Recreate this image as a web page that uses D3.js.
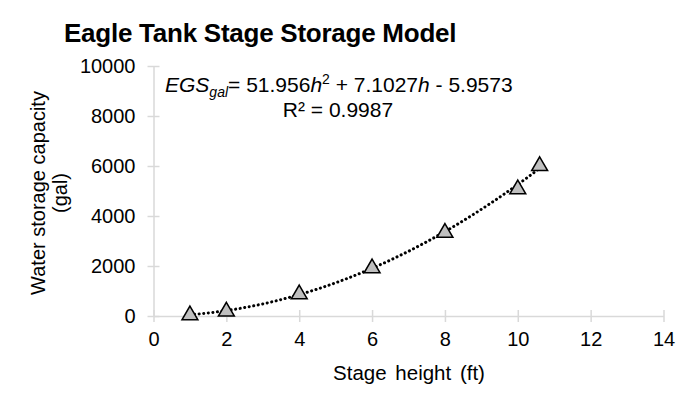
<!DOCTYPE html>
<html><head><meta charset="utf-8">
<script src="https://cdn.jsdelivr.net/npm/d3@7"></script>
<style>
body{margin:0;background:#fff;}
text{font-family:"Liberation Sans",Arial,sans-serif;fill:#000;}
</style></head>
<body>
<svg id="c" width="694" height="403"></svg>
<script>
const stageHeight = [1, 2, 4, 6, 8, 10, 10.6];
const storageGal = [30, 180, 870, 1910, 3330, 5070, 6000];
const xTicks = [0, 2, 4, 6, 8, 10, 12, 14];
const yTicks = [0, 2000, 4000, 6000, 8000, 10000];
const trendCoef = [51.956, 7.1027, -5.9573]; // a h^2 + b h + c
const trendRange = [1, 10.6];

const svg = d3.select("#c");
const x = d3.scaleLinear().domain([0, 14]).range([153.5, 663.5]);
const y = d3.scaleLinear().domain([0, 10000]).range([316, 66]);
const axisColor = "#d9d9d9";

// axes
const xa = svg.append("g").attr("transform", "translate(0,316)")
  .call(d3.axisBottom(x).tickValues(xTicks).tickFormat(d3.format("d")).tickSizeInner(6).tickSizeOuter(0).tickPadding(10));
xa.select(".domain").attr("stroke", axisColor).attr("stroke-width", 1.5);
xa.selectAll(".tick line").attr("stroke", axisColor).attr("stroke-width", 1.5).attr("y1", -6);
xa.selectAll(".tick text").style("font-size", "20px").attr("fill", "#000");

const ya = svg.append("g").attr("transform", "translate(153.5,0)")
  .call(d3.axisLeft(y).tickValues(yTicks).tickFormat(d3.format("d")).tickSizeInner(6).tickSizeOuter(0).tickPadding(12));
ya.select(".domain").attr("stroke", axisColor).attr("stroke-width", 1.5);
ya.selectAll(".tick line").attr("stroke", axisColor).attr("stroke-width", 1.5).attr("x2", -6).attr("x1", 6);
ya.selectAll(".tick text").style("font-size", "20px").attr("fill", "#000");

// trendline
const hs = d3.range(trendRange[0], trendRange[1] + 0.0001, 0.05);
const fit = h => trendCoef[0]*h*h + trendCoef[1]*h + trendCoef[2];
svg.append("path")
  .datum(hs)
  .attr("d", d3.line().x(h => x(h)).y(h => y(fit(h))))
  .attr("fill", "none").attr("stroke", "#000").attr("stroke-width", 3)
  .attr("stroke-dasharray", "0.1,4.5").attr("stroke-linecap", "round");

// markers
const tri = d3.symbol().type(d3.symbolTriangle).size(110);
svg.append("g").selectAll("path").data(stageHeight).join("path")
  .attr("d", tri)
  .attr("transform", (d, i) => `translate(${x(d)},${y(storageGal[i])})`)
  .attr("fill", "#bfbfbf").attr("stroke", "#000").attr("stroke-width", 1.5);

// title
svg.append("text").attr("x", 64).attr("y", 42)
  .style("font-size", "26px").style("font-weight", "bold").style("letter-spacing", "-0.25px")
  .text("Eagle Tank Stage Storage Model");

// equation
const eq = svg.append("text").attr("x", 165).attr("y", 92).style("font-size", "21px");
eq.append("tspan").style("font-style", "italic").text("EGS");
eq.append("tspan").style("font-style", "italic").style("font-size", "14px").attr("dy", 5).text("gal");
eq.append("tspan").attr("dy", -5).text("= 51.956");
eq.append("tspan").style("font-style", "italic").text("h");
eq.append("tspan").style("font-size", "14px").attr("dy", -8).text("2");
eq.append("tspan").attr("dy", 8).text(" + 7.1027");
eq.append("tspan").style("font-style", "italic").text("h");
eq.append("tspan").text(" - 5.9573");
svg.append("text").attr("x", 338).attr("y", 117).attr("text-anchor", "middle")
  .style("font-size", "21px").text("R² = 0.9987");

// axis titles
svg.append("text").attr("x", 409).attr("y", 380).attr("text-anchor", "middle")
  .style("font-size", "20.5px").attr("word-spacing", "3px").text("Stage height (ft)");
const yt = svg.append("text").attr("transform", "translate(45,193) rotate(-90)")
  .attr("text-anchor", "middle").style("font-size", "20px");
yt.append("tspan").attr("x", 0).attr("y", 0).text("Water storage capacity");
yt.append("tspan").attr("x", 0).attr("y", 22).text("(gal)");
</script>
</body></html>
